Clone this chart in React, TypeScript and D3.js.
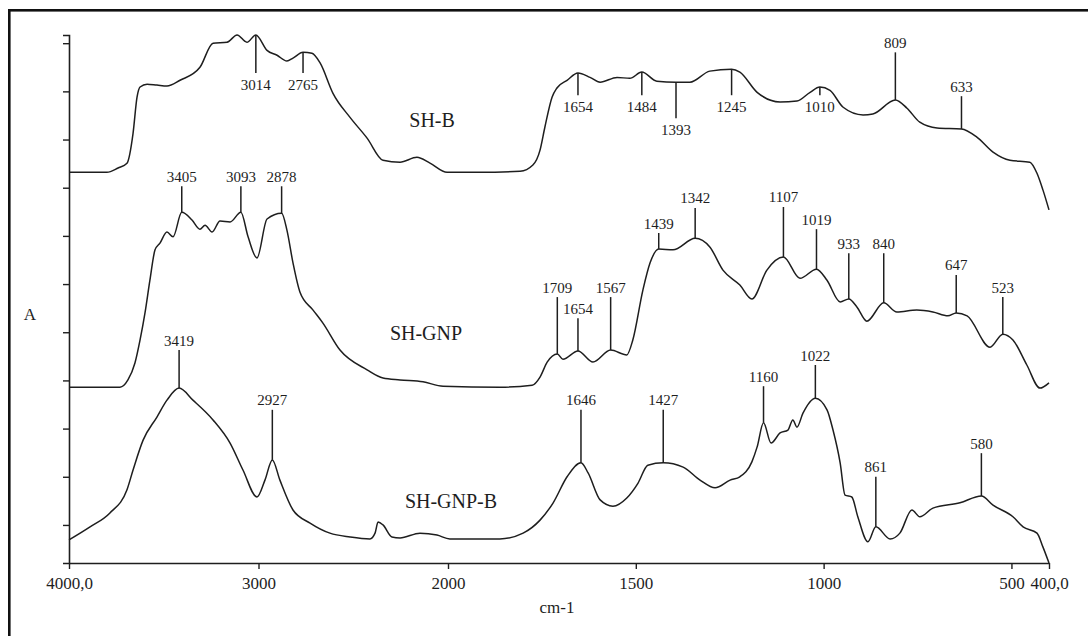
import * as d3 from "d3";
import React, { useRef, useEffect } from "react";

// spectra as [wavenumber cm-1, absorbance (arb.)]
const shB: [number, number][] = [
    [4000, 7.32], [3800, 7.32], [3741, 7.41], [3694, 7.51], [3662, 8.13], [3641, 8.88], [3625, 9.09],
    [3588, 9.15], [3536, 9.13], [3483, 9.11], [3414, 9.23], [3309, 9.5], [3240, 10.0], [3166, 10.02],
    [3113, 10.17], [3061, 10.02], [3014, 10.17], [2955, 9.85], [2902, 9.75], [2850, 9.63], [2818, 9.69],
    [2765, 9.81], [2718, 9.79], [2675, 9.59], [2607, 8.96], [2517, 8.46], [2427, 8.03], [2343, 7.57],
    [2253, 7.53], [2164, 7.63], [2095, 7.51], [2005, 7.32], [1915, 7.32], [1808, 7.34], [1774, 7.47],
    [1755, 7.78], [1742, 8.26], [1723, 8.88], [1710, 9.07], [1683, 9.23], [1654, 9.38], [1622, 9.29],
    [1595, 9.19], [1550, 9.29], [1516, 9.27], [1484, 9.4], [1444, 9.21], [1393, 9.19], [1356, 9.19],
    [1303, 9.42], [1245, 9.46], [1223, 9.4], [1177, 8.98], [1116, 8.78], [1071, 8.8], [1036, 8.98],
    [1010, 9.09], [983, 9.02], [948, 8.67], [895, 8.51], [869, 8.53], [809, 8.82], [778, 8.65],
    [744, 8.36], [698, 8.24], [633, 8.22], [592, 8.05], [549, 7.74], [504, 7.57], [451, 7.53],
    [432, 7.3], [416, 6.95], [400, 6.54],
];

const shGNP: [number, number][] = [
    [4000, 2.86], [3731, 2.86], [3689, 3.01], [3652, 3.36], [3625, 3.84], [3599, 4.4], [3573, 5.08],
    [3546, 5.71], [3520, 5.85], [3483, 6.08], [3451, 5.98], [3405, 6.49], [3351, 6.33], [3309, 6.14],
    [3282, 6.22], [3245, 6.08], [3203, 6.31], [3150, 6.29], [3093, 6.49], [3055, 5.98], [3008, 5.54],
    [2955, 6.35], [2878, 6.47], [2850, 6.12], [2818, 5.44], [2781, 4.83], [2712, 4.46], [2660, 4.19],
    [2570, 3.63], [2427, 3.22], [2343, 3.05], [2253, 3.01], [2132, 2.97], [2026, 2.88], [1862, 2.86],
    [1776, 2.9], [1755, 3.07], [1736, 3.38], [1709, 3.55], [1694, 3.44], [1654, 3.61], [1614, 3.38],
    [1567, 3.63], [1524, 3.53], [1508, 3.84], [1481, 4.88], [1462, 5.44], [1439, 5.73], [1401, 5.71],
    [1342, 5.95], [1303, 5.77], [1268, 5.29], [1223, 4.98], [1191, 4.69], [1151, 5.29], [1107, 5.56],
    [1063, 5.12], [1019, 5.31], [991, 5.08], [956, 4.63], [933, 4.69], [911, 4.52], [885, 4.23],
    [840, 4.61], [805, 4.42], [752, 4.46], [709, 4.42], [669, 4.34], [647, 4.4], [618, 4.34],
    [557, 3.69], [523, 3.96], [496, 3.84], [459, 3.32], [424, 2.84], [400, 2.95],
];

const shGNPB: [number, number][] = [
    [4000, -0.31], [3889, -0.04], [3784, 0.25], [3694, 0.73], [3662, 1.14], [3609, 1.76], [3536, 2.24],
    [3483, 2.59], [3419, 2.84], [3346, 2.59], [3240, 2.18], [3150, 1.7], [3082, 1.14], [3008, 0.58],
    [2966, 0.93], [2927, 1.35], [2887, 0.93], [2818, 0.31], [2728, 0.04], [2623, -0.17], [2517, -0.25],
    [2412, -0.29], [2385, -0.17], [2369, 0.06], [2343, 0.0], [2296, -0.25], [2253, -0.27], [2148, -0.17],
    [2058, -0.21], [1995, -0.29], [1862, -0.29], [1800, -0.17], [1755, 0.1], [1720, 0.46], [1683, 1.0],
    [1646, 1.29], [1627, 1.08], [1595, 0.52], [1561, 0.39], [1524, 0.56], [1494, 0.87], [1468, 1.24],
    [1427, 1.29], [1374, 1.2], [1329, 0.93], [1289, 0.77], [1249, 0.93], [1223, 1.0], [1191, 1.31],
    [1177, 1.62], [1160, 2.12], [1140, 1.7], [1116, 1.91], [1095, 1.97], [1082, 2.18], [1071, 2.03],
    [1055, 2.32], [1022, 2.63], [991, 2.39], [975, 1.97], [956, 1.29], [943, 0.62], [925, 0.58],
    [909, 0.17], [882, -0.35], [861, -0.04], [823, -0.29], [797, -0.17], [765, 0.31], [744, 0.17],
    [709, 0.35], [637, 0.46], [580, 0.6], [549, 0.41], [496, 0.17], [469, -0.04], [432, -0.17],
    [416, -0.46], [400, -0.79],
];

// peak markers: [wavenumber, absorbance at peak, end of marker line]
const peaksB: [number, number, number][] = [
    [3014, 10.17, 9.38], [2765, 9.81, 9.38], [1654, 9.38, 8.92], [1484, 9.4, 8.92], [1393, 9.19, 8.44],
    [1245, 9.46, 8.92], [1010, 9.09, 8.92], [809, 8.82, 9.81], [633, 8.22, 8.9],
];
const peaksGNP: [number, number, number][] = [
    [3405, 6.49, 7.03], [3093, 6.49, 7.03], [2878, 6.47, 7.03], [1709, 3.55, 4.73], [1654, 3.61, 4.29],
    [1567, 3.63, 4.73], [1439, 5.73, 6.06], [1342, 5.95, 6.58], [1107, 5.56, 6.6], [1019, 5.31, 6.14],
    [933, 4.69, 5.64], [840, 4.61, 5.64], [647, 4.4, 5.19], [523, 3.96, 4.73],
];
const peaksGNPB: [number, number, number][] = [
    [3419, 2.84, 3.63], [2927, 1.35, 2.39], [1646, 1.29, 2.39], [1427, 1.29, 2.39], [1160, 2.12, 2.88],
    [1022, 2.63, 3.32], [861, -0.04, 1.0], [580, 0.6, 1.49],
];

const seriesNames = ["SH-B", "SH-GNP", "SH-GNP-B"];
const namePos: [number, number][] = [[2084, 8.26], [2116, 3.84], [1992, 0.35]];

const xTicks = [4000, 3000, 2000, 1500, 1000, 500, 400];
const yTicks = [0, 1, 2, 3, 4, 5, 6, 7, 8, 9, 10];

const App = () => {
    const svgRef = useRef<SVGSVGElement>(null);

    useEffect(() => {
        const ink = "#1e1e1e";
        const font = "'Liberation Serif', 'Times New Roman', serif";

        // split wavenumber axis like the instrument printout: 4000-2000 compressed
        const x = d3.scaleLinear().domain([4000, 2000, 400]).range([69, 448, 1049]);
        const y = d3.scaleLinear().domain([-0.79, 10.17]).range([563, 35]);

        const svg = d3.select(svgRef.current);
        svg.selectAll("*").remove();

        svg.append("rect")
            .attr("width", 1088).attr("height", 636).attr("fill", "#fff");

        // outer frame (runs off right/bottom edge)
        svg.append("rect")
            .attr("x", 9.3).attr("y", 10.3)
            .attr("width", 1100).attr("height", 700)
            .attr("fill", "none").attr("stroke", "#111").attr("stroke-width", 2.6);

        // axes
        svg.append("g")
            .attr("transform", "translate(0,563)")
            .call(d3.axisBottom(x).tickValues(xTicks).tickSize(6).tickSizeOuter(0).tickPadding(8)
                .tickFormat((d) => (d === 4000 || d === 400 ? `${d},0` : `${d}`)))
            .call(g => g.select(".domain").attr("stroke", ink).attr("stroke-width", 1.6))
            .call(g => g.selectAll(".tick line").attr("stroke", ink).attr("stroke-width", 1.4))
            .call(g => g.selectAll(".tick text").attr("fill", ink).style("font-family", font).style("font-size", "17px"));

        svg.append("g")
            .attr("transform", "translate(69,0)")
            .call(d3.axisLeft(y).tickValues(yTicks).tickSize(6).tickSizeOuter(6).tickFormat(() => ""))
            .call(g => g.select(".domain").attr("stroke", ink).attr("stroke-width", 1.6))
            .call(g => g.selectAll(".tick line").attr("stroke", ink).attr("stroke-width", 1.4));

        svg.append("text")
            .attr("x", 557).attr("y", 613)
            .attr("text-anchor", "middle")
            .attr("fill", ink).style("font-family", font).style("font-size", "17px")
            .text("cm-1");

        svg.append("text")
            .attr("x", 30).attr("y", 320)
            .attr("text-anchor", "middle")
            .attr("fill", ink).style("font-family", font).style("font-size", "17px")
            .text("A");

        const line = d3.line<[number, number]>()
            .x(d => x(d[0]))
            .y(d => y(d[1]))
            .curve(d3.curveMonotoneX);

        const spectra = [shB, shGNP, shGNPB];
        const peaks = [peaksB, peaksGNP, peaksGNPB];

        spectra.forEach((s, i) => {
            svg.append("path")
                .attr("d", line(s))
                .attr("fill", "none")
                .attr("stroke", ink)
                .attr("stroke-width", 1.5)
                .attr("stroke-linejoin", "round");

            const g = svg.append("g");
            g.selectAll("line")
                .data(peaks[i])
                .join("line")
                .attr("x1", d => x(d[0])).attr("x2", d => x(d[0]))
                .attr("y1", d => y(d[1])).attr("y2", d => y(d[2]))
                .attr("stroke", ink).attr("stroke-width", 1.5);

            g.selectAll("text")
                .data(peaks[i])
                .join("text")
                .attr("x", d => x(d[0]))
                .attr("y", d => (d[2] < d[1] ? y(d[2]) + 17 : y(d[2]) - 4.5))
                .attr("text-anchor", "middle")
                .attr("fill", ink)
                .style("font-family", font)
                .style("font-size", "15px")
                .text(d => d[0]);

            svg.append("text")
                .attr("x", x(namePos[i][0]))
                .attr("y", y(namePos[i][1]))
                .attr("text-anchor", "middle")
                .attr("fill", ink)
                .style("font-family", font)
                .style("font-size", "20px")
                .text(seriesNames[i]);
        });
    }, []);

    return (
        <svg ref={svgRef} width={1088} height={636}
            style={{ position: "absolute", left: 0, top: 0, display: "block" }} />
    );
};

export default App;
